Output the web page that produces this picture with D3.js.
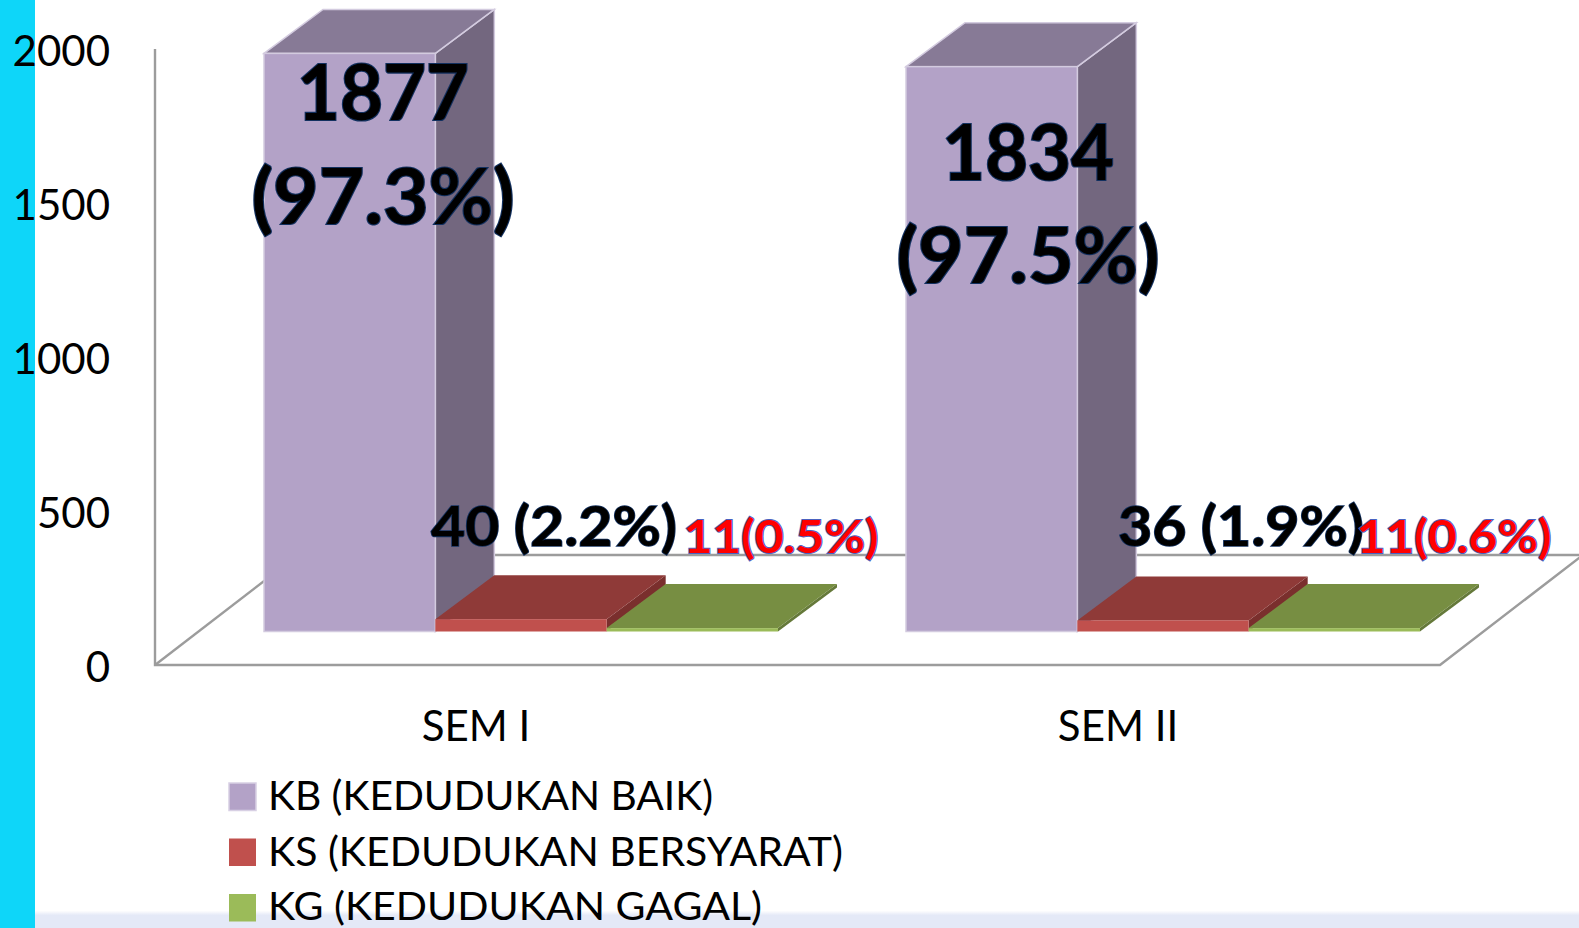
<!DOCTYPE html>
<html>
<head>
<meta charset="utf-8">
<script src="https://cdn.jsdelivr.net/npm/d3@7"></script>
<style>
html,body{margin:0;padding:0;background:#fff;overflow:hidden}
svg{display:block}
text{font-family:Lato,"Open Sans",sans-serif}
</style>
</head>
<body>
<svg id="c" width="1579" height="928"></svg>
<script>
// ---- data ----
const categories = ["SEM I", "SEM II"];
const seriesNames = ["KB (KEDUDUKAN BAIK)", "KS (KEDUDUKAN BERSYARAT)", "KG (KEDUDUKAN GAGAL)"];
const kbValues = [1877, 1834];
const ksValues = [40, 36];
const kgValues = [11, 11];
const tickValues = [0, 500, 1000, 1500, 2000];
const kbLabels = [["1877", "(97.3%)"], ["1834", "(97.5%)"]];
const ksLabels = ["40 (2.2%)", "36 (1.9%)"];
const kgLabels = ["11(0.5%)", "11(0.6%)"];

// ---- styles and layout ----
const faces = [
  {front:"#b3a2c7", top:"#877a96", side:"#73677f", edge:"#d3cbdf", ew:1.5},
  {front:"#c0504d", top:"#8f3a38", side:"#7a2f2d", edge:"none", ew:0},
  {front:"#9bbb59", top:"#778e42", side:"#65793a", edge:"none", ew:0}
];
const depthX = 59, depthY = 44, floorDX = 143, floorDY = 110;
const lineCol = "#9c9c9c";

const svg = d3.select("#c");

const y = d3.scaleLinear().domain([0, 2000]).range([665, 49]);
const x0 = d3.scaleBand().domain(categories).range([264, 264 + 642 * 2]);
const x1 = d3.scaleBand().domain(seriesNames).range([0, 514]);
const floorRight = 1440, axisX = 155;
const barBase = y(0) - 33.5;
const barTop = v => barBase - (y(0) - y(v));

// background
const defs = svg.append("defs");
const g = defs.append("linearGradient").attr("id","band").attr("x1",0).attr("x2",0).attr("y1",0).attr("y2",1);
g.append("stop").attr("offset",0).attr("stop-color","#fdfdfe");
g.append("stop").attr("offset",0.25).attr("stop-color","#e4e9f7");
g.append("stop").attr("offset",1).attr("stop-color","#e4e9f7");
svg.append("rect").attr("x",35).attr("y",911).attr("width",1544).attr("height",17).attr("fill","url(#band)");
svg.append("rect").attr("x",0).attr("y",0).attr("width",35).attr("height",928).attr("fill","#0ed6f9");

// walls / floor
const wall = svg.append("g").attr("fill","none").attr("stroke",lineCol).attr("stroke-width",2.4);
wall.append("path").attr("d",`M${axisX},${y(2000)}V${y(0)}H${floorRight}L${floorRight+floorDX},${y(0)-floorDY}`);
wall.append("path").attr("d",`M${axisX},${y(0)}L${axisX+floorDX},${y(0)-floorDY}`);
wall.append("path").attr("d",`M${axisX+floorDX},${y(0)-floorDY}H1579`);

// y axis labels
const yAxis = d3.axisLeft(y).tickValues(tickValues).tickSize(0).tickPadding(45).tickFormat(d3.format("d"));
const ya = svg.append("g").attr("transform",`translate(${axisX},0)`).call(yAxis);
ya.select(".domain").remove();
ya.selectAll("text").attr("font-size",42).attr("fill","#000").attr("font-family","Lato").attr("dy",0).attr("y",16.5);

// bars
const allValues = [kbValues, ksValues, kgValues];
const bars = [];
categories.forEach((c,ci) => seriesNames.forEach((s,si) => bars.push({c, s, si, v: allValues[si][ci]})));
const bar = svg.append("g").selectAll("g").data(bars).join("g");
const sw = x1.bandwidth();
const L = d => x0(d.c) + x1(d.s);
// side
bar.append("path").attr("fill",d=>faces[d.si].side).attr("stroke",d=>faces[d.si].edge).attr("stroke-width",d=>faces[d.si].ew)
  .attr("d",d=>{const l=L(d)+sw,t=barTop(d.v);return `M${l},${barBase}V${t}l${depthX},${-depthY}V${barBase-depthY}Z`;});
// top
bar.append("path").attr("fill",d=>faces[d.si].top).attr("stroke",d=>faces[d.si].edge).attr("stroke-width",d=>faces[d.si].ew)
  .attr("d",d=>{const l=L(d),t=barTop(d.v);return `M${l},${t}l${depthX},${-depthY}h${sw}l${-depthX},${depthY}Z`;});
// front
bar.append("rect").attr("x",L).attr("y",d=>barTop(d.v)).attr("width",sw)
  .attr("height",d=>barBase-barTop(d.v)).attr("fill",d=>faces[d.si].front).attr("stroke",d=>faces[d.si].edge).attr("stroke-width",d=>faces[d.si].ew);

// category labels
const xAxis = d3.axisBottom(x0).tickSize(0).tickPadding(0);
const xa = svg.append("g").attr("transform","translate(-109,0)").call(xAxis);
xa.select(".domain").remove();
xa.selectAll("text").attr("font-size",42).attr("font-family","Lato").attr("fill","#000").attr("y",741).attr("dy",0);

// data labels
function label(t, cx, base, size, width, fill, stroke, sw){
  svg.append("text").attr("x",cx).attr("y",base).attr("text-anchor","middle")
    .attr("font-size",size).attr("font-weight",700).attr("fill",fill)
    .attr("stroke",stroke).attr("stroke-width",sw).attr("paint-order","stroke")
    .attr("textLength",width).attr("lengthAdjust","spacingAndGlyphs").text(t);
}
const blue = "#12305f", redEdge = "#4a62c0";
const kbPlace = [{cx:383, b1:120, b2:224}, {cx:1028, b1:180, b2:283}];
kbLabels.forEach((ls,i)=>{
  label(ls[0], kbPlace[i].cx, kbPlace[i].b1, 76, 172, "#000", blue, 2.2);
  label(ls[1], kbPlace[i].cx, kbPlace[i].b2, 76, 263, "#000", blue, 2.2);
});
const ksPlace = [554, 1241];
ksLabels.forEach((t,i)=>label(t, ksPlace[i], 546, 56, 246, "#000", blue, 1.6));
const kgPlace = [781, 1454];
kgLabels.forEach((t,i)=>label(t, kgPlace[i], 553, 46, 195, "#f00", redEdge, 2));

// legend
const legendRows = [{w:445,b:27,s:40},{w:575,b:27,s:40},{w:494,b:25.5,s:38.5}];
const lg = svg.append("g").selectAll("g").data(seriesNames).join("g")
  .attr("transform",(d,i)=>`translate(229,${783 + i*55.5})`);
lg.append("rect").attr("width",27).attr("height",27.5).attr("fill",(d,i)=>faces[i].front);
lg.filter((d,i)=>i===0).select("rect").attr("stroke","#d8d0e4").attr("stroke-width",1.5);
lg.append("text").attr("x",39).attr("y",(d,i)=>legendRows[i].b).attr("font-size",(d,i)=>legendRows[i].s).attr("fill","#000")
  .attr("textLength",(d,i)=>legendRows[i].w).attr("lengthAdjust","spacingAndGlyphs").text(d=>d);
</script>
</body>
</html>
